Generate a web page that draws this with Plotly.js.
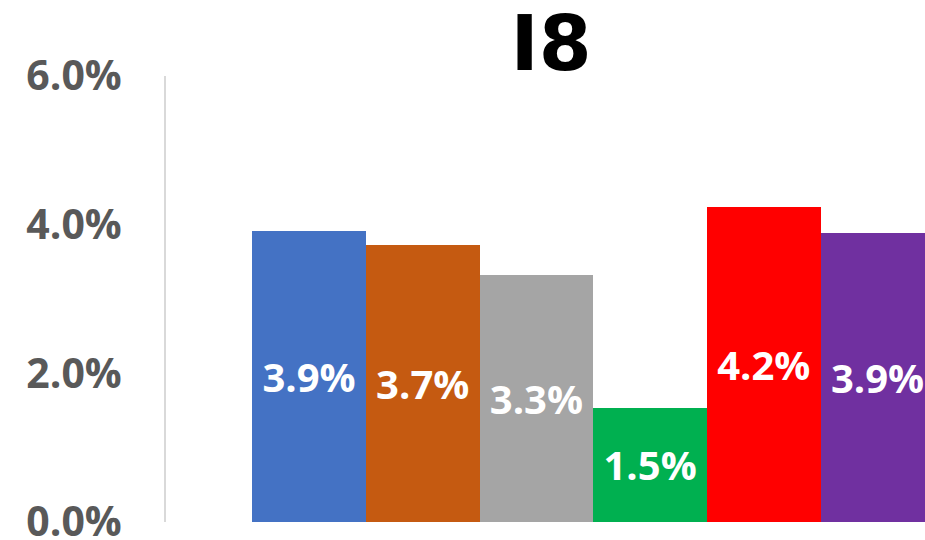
<!DOCTYPE html>
<html>
<head>
<meta charset="utf-8">
<script src="https://cdn.plot.ly/plotly-3.0.1.min.js"></script>
<style>html,body{margin:0;padding:0;background:#fff;}#chart{width:925px;height:540px;}</style>
</head>
<body>
<div id="chart"></div>
<script>
const categories = [0, 1, 2, 3, 4, 5];
const values = [3.92, 3.72, 3.32, 1.54, 4.24, 3.89];
const colors = ['#4472C4', '#C55A11', '#A5A5A5', '#00B050', '#FF0000', '#7030A0'];
const tickVals = [0, 2, 4, 6];
const tickText = ['0.0%', '2.0%', '4.0%', '6.0%'];

const trace = {
  type: 'bar',
  x: categories,
  y: values,
  marker: {color: colors, line: {width: 0}},
  texttemplate: '%{y:.1f}%',
  textposition: 'inside',
  insidetextanchor: 'middle',
  textangle: 0,
  insidetextfont: {family: 'Open Sans', size: 40, color: '#FFFFFF', weight: 'bold'},
  hoverinfo: 'none'
};

const layout = {
  width: 925, height: 540,
  margin: {l: 166, r: 0, t: 76, b: 18, pad: 0},
  paper_bgcolor: '#FFFFFF', plot_bgcolor: '#FFFFFF',
  showlegend: false,
  bargap: 0,
  title: {
    text: 'I8',
    font: {family: 'DejaVu Sans', size: 76, color: '#000000', weight: 'bold'},
    x: 551 / 925, xanchor: 'center', xref: 'container',
    y: 1 - 43 / 540, yanchor: 'middle', yref: 'container'
  },
  xaxis: {
    range: [-1.258, 5.418],
    showticklabels: false, showgrid: false, zeroline: false, showline: false, ticks: ''
  },
  yaxis: {
    range: [0, 6],
    tickvals: tickVals, ticktext: tickText,
    tickfont: {family: 'Open Sans', size: 41, color: '#595959', weight: 'bold'},
    showgrid: false, zeroline: false,
    showline: true, linecolor: '#D9D9D9', linewidth: 2,
    ticks: '', ticklabelstandoff: 34, ticklabeloverflow: 'allow'
  }
};

Plotly.newPlot('chart', [trace], layout, {displayModeBar: false, staticPlot: true});
</script>
</body>
</html>
